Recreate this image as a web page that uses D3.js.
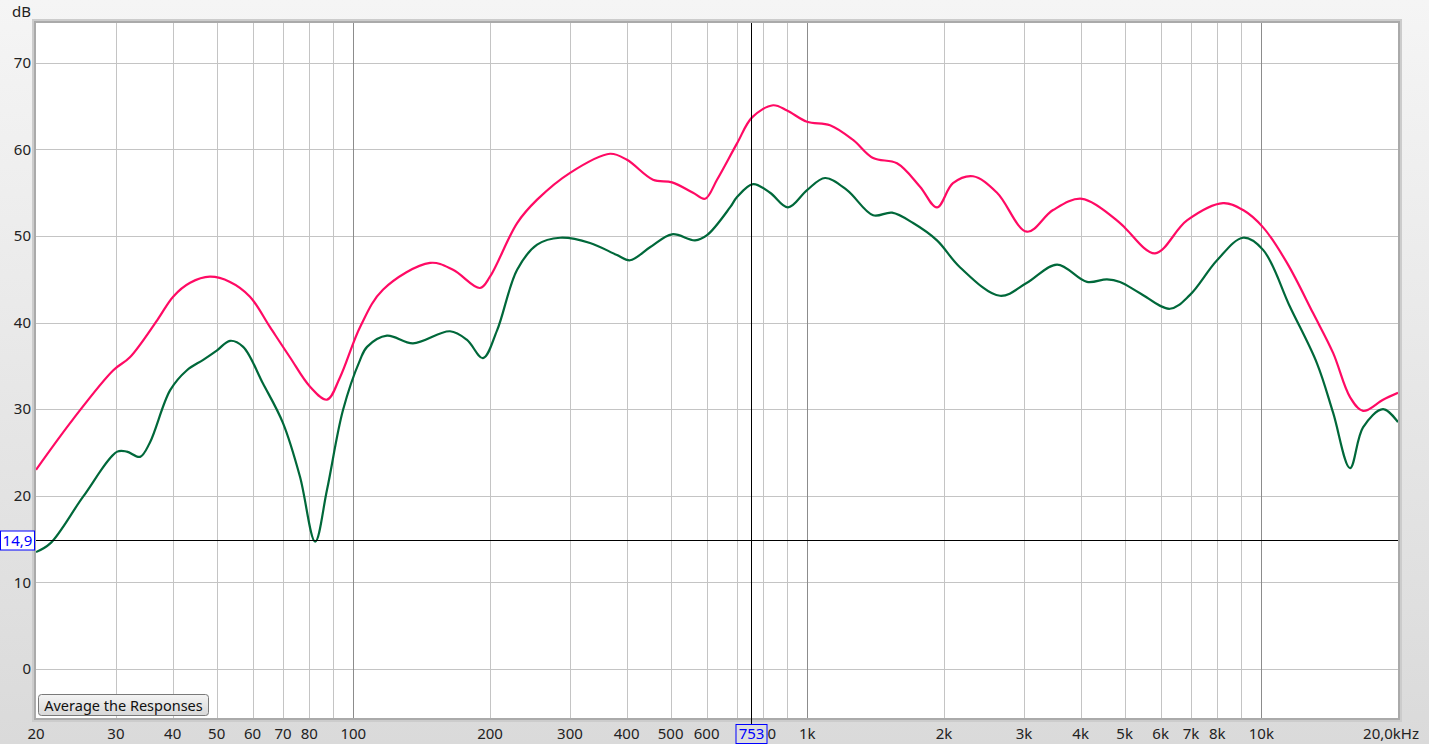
<!DOCTYPE html>
<html><head><meta charset="utf-8">
<script src="https://cdn.jsdelivr.net/npm/d3@7"></script>
<style>html,body{margin:0;padding:0;overflow:hidden}svg{display:block}</style>
</head><body>
<script>
// ---- data ----
const pinkFreq = [20,24.1,29.6,32.2,37.0,40.1,43.7,48.3,53.5,59.2,65.5,72.5,80.3,87.5,93.5,103.5,116.2,147.6,165.8,190.1,200,229.5,254.0,300.2,367.6,400.6,457.1,503.5,560.1,595.3,632.5,700.1,755.6,840.6,902.2,998.6,1122,1261,1396,1576,1771,1930,2093,2317,2617,3047,3477,4027,4884,5060,5833,6858,8235,9117,10090,11390,13000,14390,15680,16750,18540,20000];
const pinkDb   = [23.0,28.8,34.5,36.0,40.3,43.0,44.6,45.3,44.7,43.0,39.5,36.0,32.6,31.1,33.7,39.5,43.8,46.9,46.1,44.0,45.3,51.5,54.2,57.3,59.5,58.8,56.5,56.2,55.0,54.3,56.5,60.7,63.7,65.1,64.5,63.2,62.8,61.1,59.0,58.4,55.7,53.3,56.1,56.9,55.0,50.5,53.0,54.3,51.5,50.7,48.0,51.8,53.8,53.0,51.0,46.9,41.1,36.5,31.4,29.8,31.1,31.9];
const greenFreq = [20,21.5,25.4,30.2,31.7,33.9,35.6,39.5,43.0,46.7,50.1,53.5,57.2,63.2,70.0,76.3,82.4,87.5,94.9,103.5,107.2,118.6,135.3,163.3,178.0,193.0,207.3,229.5,254.0,285.4,332.2,380.9,406.8,450.2,503.5,565.8,601.3,675.6,700.1,759.4,827.9,906.7,998.6,1094,1223,1396,1537,1710,1930,2168,2657,3047,3548,4131,4571,4884,5405,6290,6965,7989,9117,10090,11570,13260,14390,15680,16750,18540,20000];
const greenDb   = [13.5,14.5,19.9,25.1,25.1,24.5,26.1,32.2,34.5,35.7,36.8,37.9,37.2,33.0,28.4,22.2,14.7,20.7,29.9,35.7,37.2,38.5,37.6,39.0,38.0,35.9,39.1,46.1,49.0,49.8,49.2,47.8,47.2,48.7,50.2,49.5,50.1,53.3,54.5,56.0,55.0,53.3,55.3,56.7,55.3,52.4,52.7,51.5,49.5,46.4,43.1,44.6,46.7,44.7,45.0,44.7,43.4,41.6,43.2,47.2,49.8,48.4,41.8,35.3,29.6,23.2,27.9,30.0,28.5];
const yTicks = [0,10,20,30,40,50,60,70];
const xGrid = [30,40,50,60,70,80,90,100,200,300,400,500,600,700,800,900,1000,2000,3000,4000,5000,6000,7000,8000,9000,10000];
const decades = [100,1000,10000];
const xLabelVals = [20,30,40,50,60,70,80,100,200,300,400,500,600,800,1000,2000,3000,4000,5000,6000,7000,8000,10000];
const xLabelText = ["20","30","40","50","60","70","80","100","200","300","400","500","600","800","1k","2k","3k","4k","5k","6k","7k","8k","10k"];
const cursorFreq = 753, cursorDb = 14.9;
const cursorFreqLabel = "753", cursorDbLabel = "14,9";

const W = 1429, H = 744;
const L = 36, R = 1398, T = 23, B = 718;
const FS = 15;
const svg = d3.select("body").append("svg").attr("width", W).attr("height", H)
  .style("font-family", "'Noto Sans', 'DejaVu Sans', sans-serif");
const defs = svg.append("defs");
const bg = defs.append("linearGradient").attr("id","bg").attr("x1",0).attr("y1",0).attr("x2",0).attr("y2",1);
bg.append("stop").attr("offset","0%").attr("stop-color","#f5f5f5");
bg.append("stop").attr("offset","100%").attr("stop-color","#dadada");
const bt = defs.append("linearGradient").attr("id","btn").attr("x1",0).attr("y1",0).attr("x2",0).attr("y2",1);
bt.append("stop").attr("offset","0%").attr("stop-color","#f4f4f4");
bt.append("stop").attr("offset","100%").attr("stop-color","#d8d8d8");

svg.append("rect").attr("width", W).attr("height", H).attr("fill", "url(#bg)");

const x = d3.scaleLog().domain([20, 20000]).range([L, R]);
const y = d3.scaleLinear().domain([-5.66, 74.6]).range([B, T]);

// frame bevel
svg.append("rect").attr("x", L-4).attr("y", T-4).attr("width", R-L+8).attr("height", B-T+8).attr("fill", "#cccccc");
svg.append("rect").attr("x", L-2).attr("y", T-2).attr("width", R-L+4).attr("height", B-T+4).attr("fill", "#aaaaaa");
svg.append("rect").attr("x", L).attr("y", T).attr("width", R-L).attr("height", B-T).attr("fill", "#ffffff");

// grid
const g = svg.append("g");
g.selectAll(".hg").data(yTicks).join("line")
  .attr("x1", L).attr("x2", R).attr("y1", d => Math.round(y(d))+0.5).attr("y2", d => Math.round(y(d))+0.5)
  .attr("stroke", "#c4c4c4").attr("stroke-width", 1);
g.selectAll(".vg").data(xGrid).join("line")
  .attr("y1", T).attr("y2", B).attr("x1", d => Math.round(x(d))+0.5).attr("x2", d => Math.round(x(d))+0.5)
  .attr("stroke", d => decades.includes(d) ? "#8c8c8c" : "#c4c4c4").attr("stroke-width", 1);

// curves
const line = d3.line().curve(d3.curveCatmullRom.alpha(0.5));
const pinkPts = pinkFreq.map((f,i) => [x(f), y(pinkDb[i])]);
const greenPts = greenFreq.map((f,i) => [x(f), y(greenDb[i])]);
const clip = defs.append("clipPath").attr("id","clip");
clip.append("rect").attr("x", L).attr("y", T).attr("width", R-L).attr("height", B-T);
const cg = svg.append("g").attr("clip-path","url(#clip)");
cg.append("path").attr("d", line(pinkPts)).attr("fill","none").attr("stroke","#ff0a64").attr("stroke-width",2.2);
cg.append("path").attr("d", line(greenPts)).attr("fill","none").attr("stroke","#00683a").attr("stroke-width",2.2);

// cursor
const cx = Math.round(x(cursorFreq))+0.5, cy = Math.round(y(cursorDb))+0.5;
svg.append("line").attr("x1", cx).attr("x2", cx).attr("y1", T).attr("y2", B+6).attr("stroke","#000").attr("stroke-width",1);
svg.append("line").attr("x1", L).attr("x2", R).attr("y1", cy).attr("y2", cy).attr("stroke","#000").attr("stroke-width",1);

// y labels
svg.append("g").selectAll("text").data(yTicks).join("text")
  .attr("x", 31).attr("y", d => y(d)).attr("dy","0.35em").attr("text-anchor","end")
  .attr("font-size", FS).attr("fill", "#222").text(d => d);
svg.append("text").attr("x", 31).attr("y", 17).attr("text-anchor","end").attr("font-size", FS).attr("fill","#222").text("dB");

// x labels
svg.append("g").selectAll("text").data(xLabelVals).join("text")
  .attr("x", d => x(d)).attr("y", 739).attr("text-anchor","middle")
  .attr("font-size", FS).attr("fill", "#222").text((d,i) => xLabelText[i]);
svg.append("text").attr("x", 1419).attr("y", 739).attr("text-anchor","end")
  .attr("font-size", FS).attr("fill", "#222").text("20,0kHz");

// cursor value boxes
svg.append("rect").attr("x", cx-15.5).attr("y", 724.5).attr("width", 31).attr("height", 19)
  .attr("fill", "#dedede").attr("stroke", "#0000ff").attr("stroke-width", 1);
svg.append("text").attr("x", cx).attr("y", 739).attr("text-anchor","middle")
  .attr("font-size", FS).attr("fill", "#0000ff").text(cursorFreqLabel);
svg.append("rect").attr("x", 0.5).attr("y", cy-9.5).attr("width", 34).attr("height", 19)
  .attr("fill", "#ffffff").attr("stroke", "#0000ff").attr("stroke-width", 1);
svg.append("text").attr("x", 17.5).attr("y", cy).attr("dy","0.35em").attr("text-anchor","middle")
  .attr("font-size", FS).attr("fill", "#0000ff").text(cursorDbLabel);

// button
svg.append("rect").attr("x", 38.5).attr("y", 694.5).attr("width", 170).attr("height", 21).attr("rx", 3)
  .attr("fill", "url(#btn)").attr("stroke", "#7a7a7a").attr("stroke-width", 1);
svg.append("text").attr("x", 123.5).attr("y", 710.5).attr("text-anchor","middle")
  .attr("font-size", 14.5).attr("fill", "#111").text("Average the Responses");
</script>
</body></html>
